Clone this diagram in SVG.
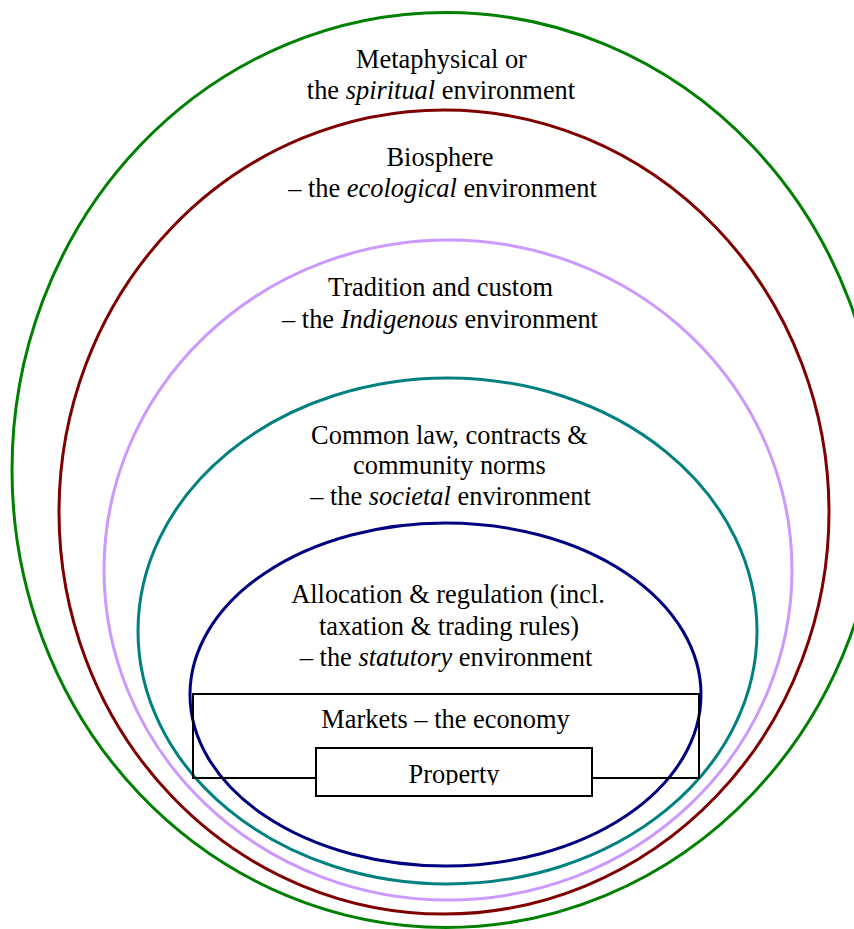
<svg xmlns="http://www.w3.org/2000/svg" width="854" height="929" viewBox="0 0 854 929">
<style>
.ring{fill:none;stroke-width:3}
.box{fill:none;stroke:#000;stroke-width:2}
text{font-family:"Liberation Serif","Times New Roman",serif;font-size:26.4px;fill:#000;text-anchor:middle}
.i{font-style:italic}
</style>
<defs>
<clipPath id="propClip"><rect x="316" y="747" width="276" height="38"/></clipPath>
</defs>
<rect width="854" height="929" fill="#fff"/>
<g id="spiritual">
<ellipse class="ring" cx="446" cy="470" rx="434" ry="457.5" stroke="#008000"/>
<text x="441.5" y="68">Metaphysical or</text>
<text x="441" y="99">the <tspan class="i">spiritual</tspan> environment</text>
</g>
<g id="ecological">
<ellipse class="ring" cx="444" cy="512" rx="385" ry="402" stroke="#800000"/>
<text x="440" y="166">Biosphere</text>
<text x="442.5" y="197">– the <tspan class="i">ecological</tspan> environment</text>
</g>
<g id="indigenous">
<ellipse class="ring" cx="448" cy="570" rx="344" ry="330" stroke="#cc99ff"/>
<text x="440.5" y="296">Tradition and custom</text>
<text x="440" y="328">– the <tspan class="i">Indigenous</tspan> environment</text>
</g>
<g id="societal">
<ellipse class="ring" cx="447.5" cy="631" rx="309.5" ry="253" stroke="#008080"/>
<text x="449.5" y="444">Common law, contracts &amp;</text>
<text x="449.5" y="474">community norms</text>
<text x="450.5" y="505">– the <tspan class="i">societal</tspan> environment</text>
</g>
<g id="statutory">
<ellipse class="ring" cx="445.5" cy="694.5" rx="255.5" ry="171.5" stroke="#000080"/>
<text x="448" y="603">Allocation &amp; regulation (incl.</text>
<text x="449" y="635">taxation &amp; trading rules)</text>
<text x="446" y="666">– the <tspan class="i">statutory</tspan> environment</text>
</g>
<g id="markets">
<rect class="box" x="193" y="694" width="506" height="84"/>
<text x="445.5" y="728">Markets – the economy</text>
</g>
<g id="property">
<rect class="box" x="316" y="748" width="276" height="48" style="fill:#fff"/>
<text x="454" y="783" clip-path="url(#propClip)">Property</text>
</g>
<g id="connectors"></g>
</svg>
